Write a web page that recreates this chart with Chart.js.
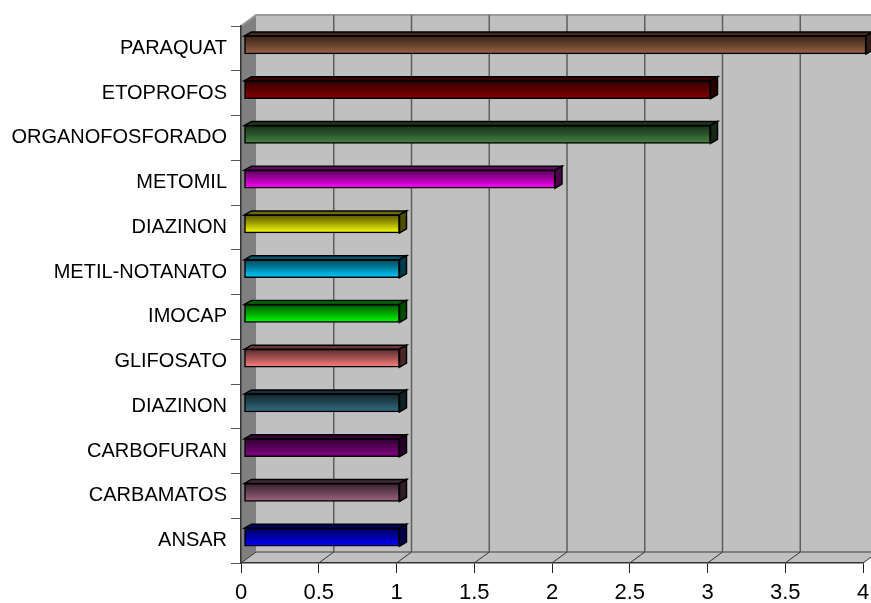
<!DOCTYPE html>
<html>
<head>
<meta charset="utf-8">
<script src="https://cdn.jsdelivr.net/npm/chart.js@4.4.1/dist/chart.umd.min.js"></script>
<style>
  body { margin: 0; background: #fff; }
  #chart { display: block; }
</style>
</head>
<body>
<canvas id="chart" width="871" height="603"></canvas>
<script>
// values
const categories = ['PARAQUAT', 'ETOPROFOS', 'ORGANOFOSFORADO', 'METOMIL', 'DIAZINON', 'METIL-NOTANATO',
                    'IMOCAP', 'GLIFOSATO', 'DIAZINON', 'CARBOFURAN', 'CARBAMATOS', 'ANSAR'];
const values = [4, 3, 3, 2, 1, 1, 1, 1, 1, 1, 1, 1];
const barColors = ['#9C6446', '#8A0000', '#438543', '#FF00FF', '#FFFF00', '#00CCFF',
                   '#00FF00', '#FF8080', '#336E82', '#880088', '#A06482', '#0000FF'];
const xTicks = [0, 0.5, 1, 1.5, 2, 2.5, 3, 3.5, 4];

// 3d look
const WALL = { dx: 15, dy: -11 };
const BAR = { dx: 7, dy: -4, ox: 3, oy: -3.5 };

function shade(hex, f) {
  const n = parseInt(hex.slice(1), 16);
  const r = Math.round(((n >> 16) & 255) * f);
  const g = Math.round(((n >> 8) & 255) * f);
  const b = Math.round((n & 255) * f);
  return `rgb(${r},${g},${b})`;
}

function poly(ctx, pts, fill, stroke, lw) {
  ctx.beginPath();
  ctx.moveTo(pts[0][0], pts[0][1]);
  for (let i = 1; i < pts.length; i++) ctx.lineTo(pts[i][0], pts[i][1]);
  ctx.closePath();
  if (fill) { ctx.fillStyle = fill; ctx.fill(); }
  if (stroke) { ctx.strokeStyle = stroke; ctx.lineWidth = lw || 1; ctx.stroke(); }
}

const walls = {
  id: 'walls',
  beforeDraw(chart) {
    const { ctx, chartArea: a, scales } = chart;
    const { dx, dy } = WALL;
    ctx.save();
    // back wall
    poly(ctx, [[a.left + dx, a.top + dy], [a.right + dx, a.top + dy], [a.right + dx, a.bottom + dy], [a.left + dx, a.bottom + dy]], '#C0C0C0');
    // left wall
    poly(ctx, [[a.left, a.top], [a.left + dx, a.top + dy], [a.left + dx, a.bottom + dy], [a.left, a.bottom]], '#808080');
    // floor
    poly(ctx, [[a.left, a.bottom], [a.left + dx, a.bottom + dy], [a.right + dx, a.bottom + dy], [a.right, a.bottom]], '#C0C0C0');
    // wall edges
    ctx.strokeStyle = '#9a9a9a';
    ctx.lineWidth = 2;
    ctx.beginPath();
    ctx.moveTo(a.left, a.top);
    ctx.lineTo(a.left + dx, a.top + dy);
    ctx.lineTo(a.right + dx + 20, a.top + dy);
    ctx.stroke();
    ctx.strokeStyle = '#6a6a6a';
    ctx.lineWidth = 1.5;
    ctx.beginPath();
    ctx.moveTo(a.left + dx, a.bottom + dy);
    ctx.lineTo(a.right + dx, a.bottom + dy);
    ctx.stroke();
    // grid on back wall + floor diagonals
    xTicks.forEach(v => {
      const px = scales.x.getPixelForValue(v);
      if (v > 0) {
        ctx.strokeStyle = '#5e5e5e';
        ctx.lineWidth = 1.5;
        ctx.beginPath();
        ctx.moveTo(px + dx, a.top + dy);
        ctx.lineTo(px + dx, a.bottom + dy);
        ctx.stroke();
      }
      ctx.strokeStyle = '#333';
      ctx.lineWidth = 1;
      ctx.beginPath();
      ctx.moveTo(px, a.bottom);
      ctx.lineTo(px + dx, a.bottom + dy);
      ctx.stroke();
    });
    ctx.restore();
  },
  beforeDatasetsDraw(chart) {
    chart.ctx.save();
    chart.ctx.translate(BAR.ox, BAR.oy);
  },
  afterDatasetsDraw(chart) {
    const ctx = chart.ctx;
    const meta = chart.getDatasetMeta(0);
    const { dx, dy } = BAR;
    meta.data.forEach((bar, i) => {
      const p = bar.getProps(['x', 'y', 'base', 'height'], true);
      const l = Math.min(p.base, p.x), r = Math.max(p.base, p.x);
      const t = p.y - p.height / 2, b = p.y + p.height / 2;
      const c = barColors[i];
      poly(ctx, [[l, t], [l + dx, t + dy], [r + dx, t + dy], [r, t]], shade(c, 0.42), '#000', 1.5);
      poly(ctx, [[r, t], [r + dx, t + dy], [r + dx, b + dy], [r, b]], shade(c, 0.3), '#000', 1.5);
    });
    ctx.restore();
  }
};

new Chart(document.getElementById('chart'), {
  type: 'bar',
  data: {
    labels: categories,
    datasets: [{
      data: values,
      barThickness: 18,
      borderColor: '#000',
      borderWidth: 1.5,
      borderSkipped: false,
      backgroundColor: (c) => {
        const chart = c.chart;
        const col = barColors[c.dataIndex];
        if (!chart.chartArea || !chart.scales.y) return col;
        const yc = chart.scales.y.getPixelForValue(c.dataIndex);
        const g = chart.ctx.createLinearGradient(0, yc - 9, 0, yc + 9);
        g.addColorStop(0, shade(col, 0.35));
        g.addColorStop(0.45, shade(col, 0.62));
        g.addColorStop(1, col);
        return g;
      }
    }]
  },
  options: {
    indexAxis: 'y',
    responsive: false,
    animation: false,
    devicePixelRatio: 1,
    layout: { padding: { left: 0, top: 26, right: 8, bottom: 0 } },
    plugins: { legend: { display: false }, tooltip: { enabled: false } },
    scales: {
      x: {
        min: 0,
        max: 4,
        afterFit: s => { s.height = 40; s.paddingRight = 0; s.paddingLeft = 0; },
        afterBuildTicks: s => { s.ticks = xTicks.map(v => ({ value: v })); },
        grid: { drawOnChartArea: false, drawTicks: true, tickLength: 10, color: '#222' },
        border: { color: '#333', width: 1.5 },
        ticks: {
          color: '#000',
          font: { family: 'Liberation Sans', size: 22 },
          padding: 7,
          maxRotation: 0,
          callback: v => String(v)
        }
      },
      y: {
        afterFit: s => { s.width = 241; },
        grid: { drawOnChartArea: false, drawTicks: true, tickLength: 10, color: '#555' },
        border: { color: '#333', width: 1.5 },
        ticks: { color: '#000', font: { family: 'Liberation Sans', size: 20 }, padding: 4 }
      }
    }
  },
  plugins: [walls]
});
</script>
</body>
</html>
